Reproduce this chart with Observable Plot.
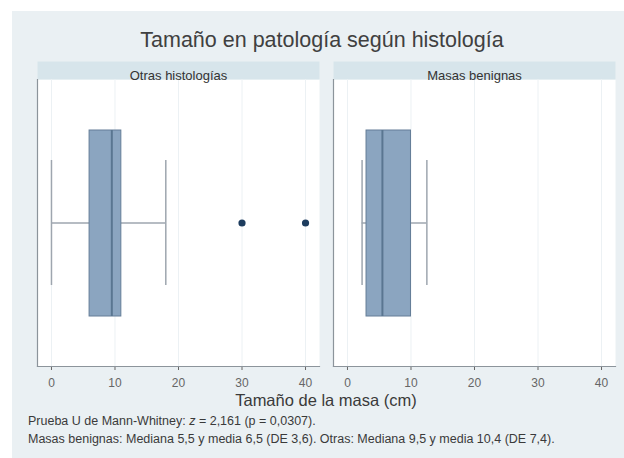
<!DOCTYPE html>
<html>
<head>
<meta charset="utf-8">
<script src="https://cdn.jsdelivr.net/npm/d3@7"></script>
<script src="https://cdn.jsdelivr.net/npm/@observablehq/plot@0.6"></script>
<style>
  html, body { margin: 0; padding: 0; background: #ffffff; }
  body { width: 624px; height: 458px; position: relative; overflow: hidden; font-family: Arial, "Liberation Sans", sans-serif; }
  #bg { position: absolute; left: 12px; top: 11px; width: 612px; height: 447px; background: #eaf0f3; }
  #chart { position: absolute; left: 0; top: 0; }
  .t { position: absolute; white-space: nowrap; line-height: 1; color: #3a3a3a; }
  #title { left: 0; width: 644px; text-align: center; top: 30px; font-size: 21.5px; color: #404040; }
  #xlabel { left: 0; width: 652px; text-align: center; top: 392px; font-size: 16.5px; color: #3a3a3a; }
  .note { left: 28px; font-size: 12.5px; color: #3a3a3a; }
</style>
</head>
<body>
<div id="bg"></div>
<div id="chart"></div>
<div class="t" id="title">Tamaño en patología según histología</div>
<div class="t" id="xlabel">Tamaño de la masa (cm)</div>
<div class="t note" id="note1" style="top:415px">Prueba U de Mann-Whitney: <i>z</i> = 2,161 (p = 0,0307).</div>
<div class="t note" id="note2" style="top:433px">Masas benignas: Mediana 5,5 y media 6,5 (DE 3,6). Otras: Mediana 9,5 y media 10,4 (DE 7,4).</div>
<script>
// ---- data ----
const groups = ["Otras histologías", "Masas benignas"];
const whiskerLow = [0, 2.3];
const q1 = [6, 3];
const median = [9.5, 5.5];
const q3 = [11, 10];
const whiskerHigh = [18, 12.5];
const outlierGroup = ["Otras histologías", "Otras histologías"];
const outlierValue = [30, 40];
const xTicks = [0, 10, 20, 30, 40];
const category = "Tamaño";

// ---- tables built from the arrays ----
const boxes = groups.map((g, i) => ({
  group: g, lo: whiskerLow[i], q1: q1[i], med: median[i], q3: q3[i], hi: whiskerHigh[i], cat: category
}));
const outliers = outlierValue.map((v, i) => ({ group: outlierGroup[i], value: v, cat: category }));

const boxFill = "#8ba5c0";
const boxStroke = "#647d97";
const medStroke = "#5a7691";
const whiskerStroke = "#9ea6af";
const axisStroke = "#8c949b";

const chart = Plot.plot({
  width: 624,
  height: 410,
  marginTop: 79,
  marginBottom: 44,
  marginLeft: 37,
  marginRight: 8,
  style: { background: "transparent", fontFamily: "Arial, 'Liberation Sans', sans-serif", fontSize: "12px", color: "#666" },
  facet: { data: boxes, x: "group" },
  fx: { domain: groups, paddingInner: 0.0472, paddingOuter: 0, axis: null, label: null },
  x: { domain: [-2.2, 42.2], ticks: xTicks, tickSize: 4, tickPadding: 8, label: null, tickFormat: d => d },
  y: { domain: [category], padding: 0, axis: null, label: null },
  marks: [
    Plot.frame({ fill: "white", stroke: null }),
    Plot.frame({ fill: "#d7e5eb", stroke: null, insetTop: -18, insetBottom: 287 }),
    Plot.gridX(xTicks, { stroke: "#ecf1f4", strokeOpacity: 1 }),
    Plot.frame({ anchor: "left", stroke: axisStroke, strokeWidth: 1.2 }),
    Plot.frame({ anchor: "bottom", stroke: axisStroke, strokeWidth: 1.2 }),
    Plot.text(groups, { fx: d => d, text: d => d, frameAnchor: "top", dy: -9, fontSize: 13, fill: "#333" }),
    // whisker lines
    Plot.ruleY(boxes, { fx: "group", y: "cat", x1: "lo", x2: "q1", stroke: whiskerStroke, strokeWidth: 1.5 }),
    Plot.ruleY(boxes, { fx: "group", y: "cat", x1: "q3", x2: "hi", stroke: whiskerStroke, strokeWidth: 1.5 }),
    // whisker caps
    Plot.tickX(boxes, { fx: "group", y: "cat", x: "lo", insetTop: 81, insetBottom: 81, stroke: whiskerStroke, strokeWidth: 1.5 }),
    Plot.tickX(boxes, { fx: "group", y: "cat", x: "hi", insetTop: 81, insetBottom: 81, stroke: whiskerStroke, strokeWidth: 1.5 }),
    // box
    Plot.barX(boxes, { fx: "group", y: "cat", x1: "q1", x2: "q3", insetTop: 51, insetBottom: 50, fill: boxFill, stroke: boxStroke, strokeWidth: 1 }),
    // median
    Plot.tickX(boxes, { fx: "group", y: "cat", x: "med", insetTop: 51, insetBottom: 50, stroke: medStroke, strokeWidth: 2 }),
    // outliers
    Plot.dot(outliers, { fx: "group", y: "cat", x: "value", r: 3.6, fill: "#1d3c5e", stroke: null })
  ]
});
document.getElementById("chart").appendChild(chart);
</script>
</body>
</html>
